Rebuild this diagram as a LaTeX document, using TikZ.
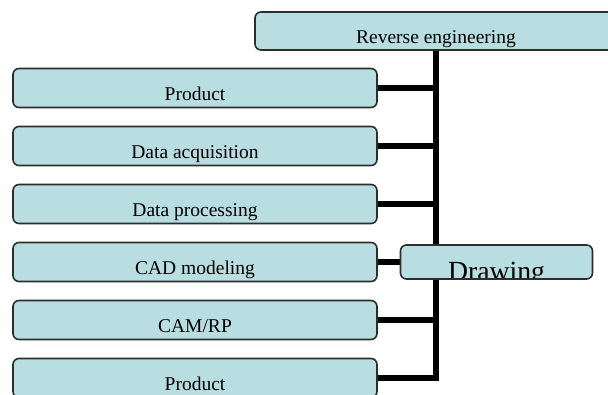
\documentclass[tikz,border=0pt]{standalone}
\usepackage{fontspec}
\setmainfont{Liberation Serif}
\usepackage{tikz}
\usepackage{xcolor}
\usetikzlibrary{positioning,shapes,backgrounds}

\definecolor{boxfill}{RGB}{184,222,226}
\definecolor{boxline}{RGB}{45,45,45}

\begin{document}
\begin{tikzpicture}[x=1pt,y=-1pt]
\tikzstyle{stage}=[draw=boxline, fill=boxfill, line width=1.6pt, rounded corners=6pt,
  inner sep=0pt, text depth=0pt, font=\fontsize{19.5}{22}\selectfont]
\tikzstyle{link}=[black, line width=5.5pt]
\useasboundingbox (0,0) rectangle (608,394);
% top box, runs off the page on the right
\node [stage, minimum width=362pt, minimum height=38pt, text height=24pt] (rev) at (436,31) {Reverse engineering};
% the six stages
\node [stage, minimum width=364pt, minimum height=39pt, text height=25pt] (prod) at (195,88) {Product};
\node [stage, minimum width=364pt, minimum height=39pt, text height=25pt] (acq) at (195,146) {Data acquisition};
\node [stage, minimum width=364pt, minimum height=39pt, text height=25pt] (proc) at (195,204) {Data processing};
\node [stage, minimum width=364pt, minimum height=39pt, text height=25pt] (cad) at (195,262) {CAD modeling};
\node [stage, minimum width=364pt, minimum height=39pt, text height=25pt] (cam) at (195,320) {CAM/RP};
\node [stage, minimum width=364pt, minimum height=39pt, text height=25pt] (prod2) at (195,378) {Product};
% drawing box, its text cut off at the bottom edge
\node [stage, minimum width=192pt, minimum height=34pt,
  path picture={\node [font=\fontsize{27.7}{30}\selectfont, anchor=base, inner sep=0pt] (drawtext)
    at ([yshift=-18pt]path picture bounding box.center) {Drawing};}] (drawing) at (496.5,262) {};
\begin{scope}[on background layer]
\draw [link] (rev.south) -- (rev.south |- prod2.east) -- (prod2.east);
\draw [link] (prod.east) -- (rev.south |- prod.east);
\draw [link] (acq.east) -- (rev.south |- acq.east);
\draw [link] (proc.east) -- (rev.south |- proc.east);
\draw [link] (cad.east) -- (drawing.west);
\draw [link] (cam.east) -- (rev.south |- cam.east);
\end{scope}
\end{tikzpicture}
\end{document}
